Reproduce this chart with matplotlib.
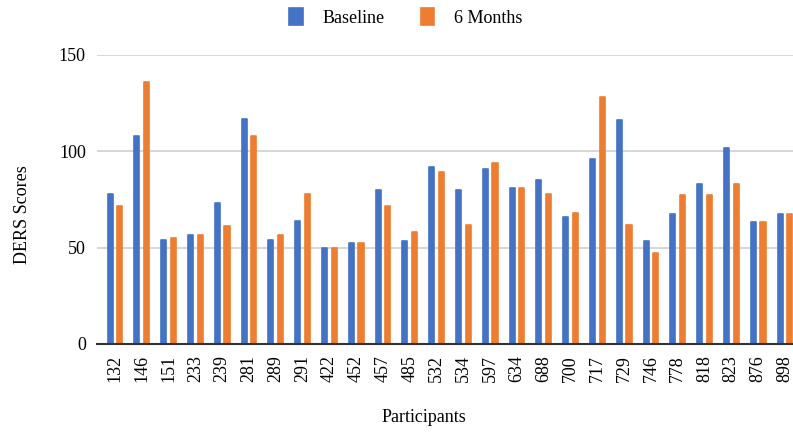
import numpy as np
import matplotlib
matplotlib.use('Agg')
from matplotlib import pyplot as plt

# DERS scores per participant
participants = ['132', '146', '151', '233', '239', '281', '289', '291', '422', '452',
                '457', '485', '532', '534', '597', '634', '688', '700', '717', '729',
                '746', '778', '818', '823', '876', '898']
baseline = [78, 108, 54, 56.5, 73, 117, 54, 64, 50, 52.5,
            80, 53.5, 92, 80, 91, 81, 85, 66, 96, 116,
            53.5, 67.5, 83, 101.5, 63.5, 67.5]
six_months = [71.5, 136, 55, 56.5, 61, 108, 56.5, 78, 50, 52.5,
              71.5, 58, 89, 62, 94, 81, 78, 68, 128, 62,
              47, 77.5, 77.5, 83, 63.5, 67.5]

plt.rcParams['font.family'] = ['Liberation Serif', 'DejaVu Serif']

blue = '#4472C4'
orange = '#ED7D31'

fig = plt.figure(figsize=(7.93, 4.34), dpi=100)
ax = fig.add_axes([0.1223, 0.2074, 0.8777, 0.666])

x = np.arange(len(participants))
w = 0.19
off = 0.18
ax.bar(x - off, baseline, w, color=blue, edgecolor=blue, linewidth=1.2,
       joinstyle='round', label='Baseline', zorder=3)
ax.bar(x + off, six_months, w, color=orange, edgecolor=orange, linewidth=1.2,
       joinstyle='round', label='6 Months', zorder=3)

ax.set_xlim(-0.67, len(participants) - 0.7)
ax.set_ylim(0, 150)
ax.set_yticks([0, 50, 100, 150])
ax.set_xticks(x)
ax.set_xticklabels(participants, rotation=90)
ax.tick_params(axis='both', length=0, labelsize=13)
ax.tick_params(axis='y', pad=8)
ax.tick_params(axis='x', pad=8)

ax.grid(axis='y', color='#d0d0d0', linewidth=1.2, zorder=0)
for s in ['top', 'right', 'left']:
    ax.spines[s].set_visible(False)
ax.spines['bottom'].set_color('#333333')
ax.spines['bottom'].set_linewidth(1.5)
ax.spines['bottom'].set_zorder(4)

fig.text(0.028, 0.505, 'DERS Scores', rotation=90, ha='center', va='center', fontsize=13)
fig.text(0.535, 0.037, 'Participants', ha='center', va='center', fontsize=13)

fig.legend(loc='center', bbox_to_anchor=(0.512, 0.96), ncol=2, frameon=False,
           fontsize=13, handlelength=0.75, handleheight=1.1, columnspacing=2.0,
           handletextpad=1.1)

plt.savefig('out.png', dpi=100)
